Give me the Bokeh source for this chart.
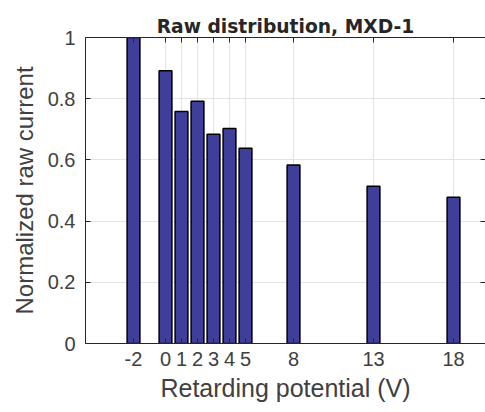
from bokeh.plotting import figure
from bokeh.models import FixedTicker, LinearAxis, CustomJSTickFormatter, ColumnDataSource, Grid
from bokeh.embed import file_html
from bokeh.resources import INLINE

# Data
potentials = [-2, 0, 1, 2, 3, 4, 5, 8, 13, 18]
raw_current = [1.0, 0.891, 0.758, 0.792, 0.684, 0.703, 0.638, 0.583, 0.514, 0.478]
x_ticks = [-2, 0, 1, 2, 3, 4, 5, 8, 13, 18]
y_ticks = [0, 0.2, 0.4, 0.6, 0.8, 1]
title_text = "Raw distribution, MXD-1"
x_label = "Retarding potential (V)"
y_label = "Normalized raw current"

FONT = "Liberation Sans"
AXIS_COLOR = "#262626"
LABEL_COLOR = "#404040"

p = figure(width=485, height=412, x_range=(-5, 20), y_range=(0, 1),
           output_backend="svg", toolbar_location=None,
           min_border_left=85, min_border_right=0, min_border_top=37, min_border_bottom=69,
           x_axis_location=None, y_axis_location=None)
p.outline_line_color = None
p.background_fill_color = "white"
p.border_fill_color = "white"
p.xgrid.visible = False
p.ygrid.visible = False
p.add_layout(Grid(dimension=0, ticker=FixedTicker(ticks=x_ticks), grid_line_color="#e3e3e3", grid_line_width=1))
p.add_layout(Grid(dimension=1, ticker=FixedTicker(ticks=y_ticks), grid_line_color="#e3e3e3", grid_line_width=1))

src = ColumnDataSource(data=dict(x=potentials, top=raw_current))
p.vbar(x="x", top="top", width=0.8, source=src, fill_color="#3f3f9b",
       line_color="black", line_width=1.5)

plain = CustomJSTickFormatter(code="return String(tick);")
blank = CustomJSTickFormatter(code="return '';")

xax = LinearAxis(ticker=FixedTicker(ticks=x_ticks), axis_label=x_label, formatter=plain)
yax = LinearAxis(ticker=FixedTicker(ticks=y_ticks), axis_label=y_label, formatter=plain)
tax = LinearAxis(ticker=FixedTicker(ticks=x_ticks), formatter=blank)
rax = LinearAxis(ticker=FixedTicker(ticks=y_ticks), formatter=blank)
for ax in (xax, yax, tax, rax):
    ax.axis_line_color = AXIS_COLOR
    ax.axis_line_width = 1
    ax.major_tick_in = 5
    ax.major_tick_out = 0
    ax.major_tick_line_color = AXIS_COLOR
    ax.minor_tick_line_color = None
    ax.major_label_text_font = FONT
    ax.major_label_text_font_size = "20px"
    ax.major_label_text_color = LABEL_COLOR
    ax.axis_label_text_font = FONT
    ax.axis_label_text_font_size = "24px"
    ax.axis_label_text_font_style = "normal"
    ax.axis_label_text_color = LABEL_COLOR
xax.axis_label_text_font_size = "25px"
xax.major_label_standoff = 8
xax.axis_label_standoff = 5
yax.major_label_standoff = 10
yax.axis_label_standoff = 7
for ax in (tax, rax):
    ax.major_label_text_font_size = "1px"
    ax.major_label_standoff = 0
rax.axis_line_color = None
p.add_layout(xax, "below")
p.add_layout(yax, "left")
p.add_layout(tax, "above")
p.add_layout(rax, "right")

p.title.text = title_text
p.title.align = "center"
p.title.text_font = "DejaVu Sans"
p.title.text_font_size = "18.7px"
p.title.text_font_style = "bold"
p.title.text_color = AXIS_COLOR
p.title.standoff = 2
p.title.offset = 0

open("out.html", "w").write(file_html(p, INLINE))
